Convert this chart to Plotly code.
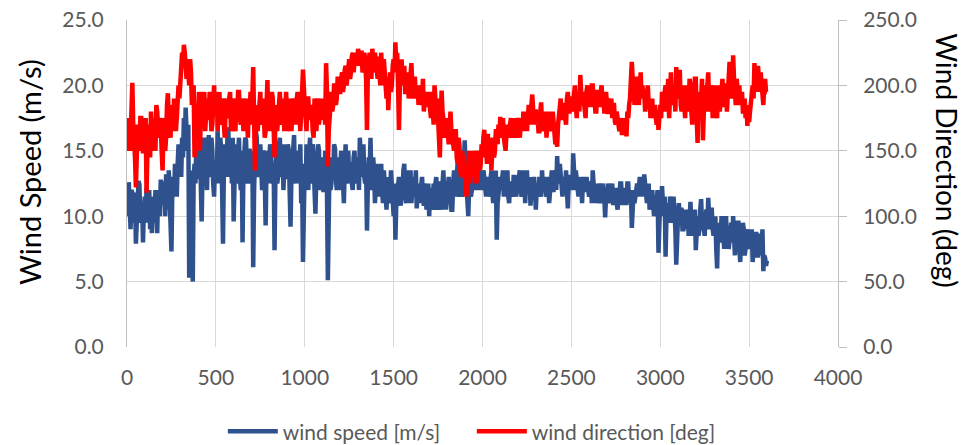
import plotly.graph_objects as go

# wind speed [m/s] read at x = 0, 10, 20, ... 3600
wind_speed = [
    11.5, 12.6, 9.0, 11.8, 10.5, 7.9, 11.2, 12.4, 10.0, 8.0,
    11.5, 12.2, 10.8, 9.0, 8.7, 11.0, 12.0, 8.7, 11.5, 12.8,
    11.0, 12.5, 13.2, 10.5, 12.0, 7.3, 13.0, 14.0, 11.5, 15.5,
    14.5, 16.0, 17.5, 18.3, 15.0, 5.3, 13.5, 5.0, 14.0, 15.5,
    13.0, 16.0, 9.6, 14.5, 15.5, 12.0, 16.2, 13.5, 15.0, 11.5,
    14.0, 16.5, 12.5, 15.0, 7.9, 15.5, 13.0, 16.8, 14.0, 12.5,
    9.6, 15.5, 13.5, 16.0, 12.0, 8.0, 14.5, 15.8, 13.0, 15.0,
    12.5, 6.1, 14.0, 16.0, 13.5, 15.5, 12.0, 14.8, 9.3, 15.0,
    13.5, 14.5, 12.5, 7.4, 15.0, 13.0, 16.0, 14.0, 12.0, 15.5,
    13.0, 15.0, 9.2, 14.0, 16.2, 12.5, 15.0, 13.5, 11.0, 6.5,
    14.0, 15.5, 12.0, 16.0, 13.0, 14.5, 10.2, 13.5, 15.0, 12.5,
    14.0, 12.0, 13.5, 5.1, 14.5, 12.5, 13.0, 15.2, 12.0, 14.0,
    13.0, 14.5, 11.0, 15.5, 13.0, 12.5, 14.0, 12.0, 15.0, 13.0,
    14.0, 16.0, 13.0, 15.5, 12.5, 8.9, 14.5, 16.0, 12.0, 13.5,
    12.5, 11.5, 13.0, 14.0, 11.0, 12.5, 10.5, 13.0, 11.5, 12.0,
    10.0, 8.2, 11.5, 13.0, 10.8, 12.0, 14.0, 11.0, 13.5, 12.0,
    11.0, 13.0, 12.0, 10.6, 12.5, 11.5, 13.0, 10.8, 12.0, 11.0,
    10.0, 12.0, 10.5, 11.5, 13.0, 11.0, 12.5, 10.5, 13.5, 12.0,
    11.5, 13.0, 12.0, 10.5, 13.5, 12.5, 14.0, 11.5, 13.0, 12.0,
    15.8, 12.5, 10.0, 13.0, 12.0, 13.0, 12.5, 12.0, 13.0, 12.5,
    12.0, 13.0, 11.5, 12.5, 12.0, 13.5, 11.0, 12.5, 8.2, 12.0,
    13.0, 12.5, 11.5, 12.0, 13.5, 11.0, 12.5, 11.5, 13.0, 11.5,
    12.0, 13.5, 11.5, 12.5, 11.0, 13.5, 12.0, 10.8, 12.5, 13.0,
    10.5, 12.5, 13.0, 11.5, 12.0, 13.0, 11.5, 12.5, 12.0, 13.5,
    12.0, 13.5, 14.6, 12.5, 13.0, 11.5, 12.5, 13.5, 10.6, 12.0,
    13.0, 14.8, 12.0, 13.0, 11.5, 12.5, 11.0, 13.0, 12.0, 12.5,
    11.5, 12.5, 13.5, 11.0, 12.0, 11.5, 12.5, 11.0, 12.0, 9.9,
    11.0, 12.0, 11.5, 12.5, 11.0, 12.0, 10.5, 11.5, 12.5, 11.0,
    12.0, 11.0, 12.5, 11.5, 9.1, 12.0, 11.5, 12.5, 12.0, 12.5,
    13.0, 13.2, 12.0, 11.5, 10.5, 11.5, 11.0, 10.5, 11.0, 7.2,
    11.5, 12.3, 10.5, 6.9, 11.0, 10.0, 11.0, 9.5, 10.5, 6.3,
    10.0, 9.5, 10.5, 9.0, 10.0, 9.5, 8.5, 11.1, 10.0, 9.5,
    7.4, 10.0, 9.0, 11.3, 10.0, 8.5, 10.5, 11.4, 9.0, 10.5,
    8.5, 10.0, 6.0, 9.5, 8.5, 9.0, 7.5, 10.0, 9.0, 8.5,
    9.5, 10.0, 7.0, 8.5, 9.5, 6.5, 8.0, 9.0, 7.5, 8.5,
    9.0, 8.0, 6.5, 8.5, 8.8, 7.0, 8.5, 8.0, 5.8, 6.8,
    6.6,
]

# wind speed [m/s] read at x = 5, 15, 25, ... 3595
wind_speed_mid = [
    10.0, 11.0, 12.0, 9.5, 11.8, 10.5, 12.7, 9.5, 11.0, 10.5,
    9.5, 11.0, 12.0, 10.5, 11.5, 9.5, 10.5, 12.0, 10.0, 11.0,
    12.5, 10.0, 11.5, 13.5, 9.5, 12.0, 11.5, 12.5, 14.0, 13.0,
    13.0, 14.5, 15.5, 16.5, 17.0, 12.0, 9.0, 13.0, 12.5, 13.0,
    15.0, 12.5, 13.5, 16.0, 13.0, 15.0, 13.0, 16.0, 12.5, 14.0,
    12.5, 14.0, 16.0, 12.0, 13.5, 14.0, 16.0, 13.0, 15.5, 16.0,
    13.0, 12.5, 15.5, 13.0, 15.0, 13.5, 16.0, 12.5, 15.0, 13.0,
    15.0, 12.0, 16.5, 13.0, 14.5, 13.0, 15.0, 13.0, 14.0, 12.5,
    15.5, 12.5, 14.0, 13.0, 12.5, 15.5, 13.0, 15.5, 14.5, 13.0,
    15.5, 12.0, 13.0, 15.5, 13.0, 14.5, 12.5, 15.5, 13.0, 12.0,
    12.0, 13.0, 15.0, 12.5, 15.5, 12.0, 13.0, 15.5, 12.0, 14.5,
    12.0, 15.0, 12.0, 10.0, 12.0, 14.5, 15.5, 13.0, 14.5, 12.0,
    15.0, 12.0, 13.5, 12.5, 15.0, 14.0, 12.5, 14.5, 12.5, 14.5,
    12.0, 14.5, 15.0, 13.0, 14.0, 12.5, 13.5, 12.5, 14.5, 11.0,
    14.0, 13.0, 11.5, 12.0, 13.5, 11.0, 12.5, 11.0, 13.5, 10.5,
    12.5, 11.0, 12.5, 11.5, 12.5, 13.5, 11.5, 12.5, 11.0, 13.5,
    12.5, 11.5, 13.5, 12.0, 11.0, 12.5, 11.5, 12.5, 10.5, 12.5,
    12.0, 11.0, 12.5, 12.5, 10.5, 12.5, 11.0, 12.5, 11.5, 10.5,
    13.0, 11.5, 10.5, 12.5, 11.5, 13.5, 12.0, 13.5, 11.5, 14.0,
    13.5, 11.5, 12.5, 11.5, 13.5, 12.0, 13.0, 13.5, 12.0, 13.5,
    13.5, 12.0, 13.0, 11.5, 13.0, 12.0, 12.5, 13.5, 11.0, 13.0,
    12.0, 13.5, 12.5, 13.0, 11.5, 12.5, 12.0, 13.0, 12.0, 12.5,
    13.0, 12.0, 12.5, 13.5, 12.5, 12.0, 13.0, 12.0, 11.5, 12.0,
    12.0, 11.5, 12.0, 13.5, 12.5, 12.0, 13.0, 11.0, 13.5, 12.0,
    13.0, 12.0, 13.0, 14.0, 12.0, 13.0, 12.0, 12.0, 12.5, 13.0,
    12.0, 13.5, 13.5, 12.0, 12.5, 13.0, 12.5, 12.0, 13.0, 11.5,
    12.5, 11.0, 12.5, 12.5, 11.0, 12.5, 11.5, 12.5, 11.5, 11.5,
    12.5, 11.0, 12.5, 11.0, 12.0, 11.0, 12.0, 12.5, 11.0, 12.0,
    11.0, 12.5, 11.0, 12.0, 11.5, 11.0, 12.5, 11.5, 13.0, 11.5,
    12.0, 12.0, 11.0, 12.5, 11.0, 12.0, 10.0, 11.5, 12.0, 10.5,
    10.0, 11.0, 11.5, 10.0, 9.5, 11.5, 10.0, 11.5, 9.0, 10.0,
    11.0, 10.5, 9.0, 10.5, 9.0, 10.5, 10.0, 9.5, 8.5, 10.5,
    9.5, 8.5, 10.5, 9.5, 9.0, 10.0, 9.0, 10.0, 10.5, 9.0,
    9.5, 7.5, 9.0, 8.0, 10.0, 8.0, 9.5, 8.5, 7.5, 9.5,
    8.0, 8.5, 9.0, 9.5, 7.5, 8.5, 9.5, 7.0, 9.0, 8.0,
    7.5, 9.0, 8.0, 7.5, 7.0, 8.5, 7.0, 9.0, 7.0, 6.2,
]

# wind direction [deg] read at x = 0, 10, 20, ... 3600
wind_direction = [
    165, 175, 150, 202, 160, 122, 170, 155, 175, 148,
    160, 118, 170, 145, 165, 175, 150, 180, 160, 170,
    135, 175, 160, 194, 170, 185, 165, 180, 175, 200,
    210, 225, 231, 215, 220, 200, 210, 190, 145, 185,
    175, 150, 195, 180, 165, 190, 175, 185, 170, 200,
    180, 165, 195, 175, 185, 160, 190, 178, 195, 170,
    185, 165, 180, 195, 170, 185, 175, 190, 160, 180,
    170, 214, 135, 185, 175, 195, 170, 180, 165, 204,
    180, 175, 190, 145, 185, 175, 195, 170, 185, 178,
    180, 170, 190, 175, 185, 170, 195, 180, 175, 212,
    185, 165, 190, 175, 180, 160, 185, 175, 170, 190,
    175, 185, 217, 138, 175, 195, 185, 200, 190, 205,
    195, 210, 200, 215, 205, 220, 210, 225, 215, 220,
    228, 215, 225, 212, 220, 166, 222, 215, 228, 210,
    220, 205, 215, 225, 200, 212, 190, 181, 210, 200,
    220, 233, 225, 166, 210, 200, 215, 195, 205, 200,
    217, 190, 205, 195, 185, 200, 190, 180, 195, 185,
    190, 175, 185, 200, 180, 170, 145, 196, 175, 165,
    170, 155, 180, 160, 150, 165, 140, 155, 130, 145,
    135, 115, 140, 125, 150, 135, 145, 130, 150, 140,
    145, 166, 155, 163, 150, 135, 160, 150, 165, 170,
    176, 165, 160, 150, 170, 165, 175, 160, 170, 165,
    172, 160, 175, 180, 170, 165, 185, 175, 193, 170,
    180, 175, 165, 187, 175, 170, 160, 180, 175, 165,
    170, 155, 153, 180, 190, 175, 185, 170, 195, 180,
    190, 185, 200, 175, 195, 208, 185, 190, 175, 200,
    195, 185, 200, 190, 180, 195, 185, 200, 190, 180,
    185, 190, 180, 175, 185, 170, 175, 165, 170, 168,
    165, 161, 175, 190, 218, 200, 190, 205, 185, 210,
    200, 195, 185, 200, 190, 180, 175, 185, 170, 166,
    185, 195, 180, 200, 190, 175, 210, 185, 195, 214,
    190, 212, 180, 200, 175, 195, 185, 200, 170, 190,
    205, 156, 195, 185, 158, 200, 190, 210, 180, 195,
    185, 200, 175, 195, 190, 205, 185, 200, 190, 218,
    200, 223, 195, 205, 190, 185, 195, 180, 175, 169,
    172, 185, 200, 217, 210, 215, 195, 200, 185, 205,
    195,
]

# wind direction [deg] read at x = 5, 15, 25, ... 3595
wind_direction_mid = [
    150, 160, 180, 170, 145, 160, 150, 175, 160, 165,
    175, 150, 155, 180, 150, 160, 185, 165, 175, 150,
    165, 150, 185, 175, 160, 170, 190, 165, 185, 190,
    220, 215, 225, 205, 210, 220, 185, 200, 175, 165,
    195, 185, 170, 195, 185, 175, 195, 165, 190, 180,
    195, 185, 170, 190, 170, 185, 175, 190, 165, 190,
    170, 190, 195, 175, 190, 165, 190, 175, 185, 195,
    190, 175, 175, 165, 195, 175, 190, 160, 185, 170,
    165, 195, 160, 175, 165, 190, 175, 190, 165, 195,
    165, 190, 165, 190, 170, 190, 175, 165, 195, 185,
    175, 190, 175, 185, 165, 190, 165, 190, 185, 175,
    190, 170, 195, 165, 190, 180, 200, 185, 205, 195,
    205, 195, 212, 200, 215, 205, 222, 210, 225, 215,
    215, 225, 210, 225, 205, 210, 225, 205, 218, 225,
    210, 222, 200, 210, 220, 195, 205, 200, 195, 215,
    210, 215, 200, 200, 220, 210, 195, 210, 190, 210,
    200, 205, 190, 200, 195, 185, 205, 190, 185, 195,
    180, 195, 170, 185, 190, 160, 175, 180, 160, 175,
    160, 170, 165, 150, 165, 145, 160, 135, 150, 135,
    125, 130, 150, 140, 130, 150, 125, 145, 135, 155,
    160, 150, 140, 150, 160, 150, 145, 165, 155, 160,
    160, 175, 150, 165, 160, 175, 165, 175, 160, 175,
    165, 170, 165, 170, 180, 175, 170, 185, 175, 180,
    170, 165, 180, 170, 165, 180, 175, 165, 170, 180,
    160, 165, 170, 190, 175, 185, 175, 190, 180, 190,
    180, 195, 185, 190, 180, 195, 195, 180, 195, 185,
    185, 200, 190, 180, 195, 185, 195, 185, 180, 195,
    178, 182, 190, 185, 172, 180, 168, 175, 162, 175,
    172, 180, 185, 205, 205, 185, 205, 190, 200, 190,
    190, 180, 195, 185, 175, 190, 185, 175, 180, 175,
    175, 185, 195, 180, 205, 195, 190, 200, 180, 195,
    200, 185, 195, 185, 200, 180, 205, 180, 195, 205,
    175, 190, 175, 205, 190, 180, 205, 185, 200, 175,
    200, 180, 200, 180, 205, 185, 200, 180, 205, 195,
    190, 205, 185, 195, 200, 190, 180, 190, 185, 180,
    180, 195, 190, 205, 195, 205, 210, 190, 200, 195,
]

speed_ticks = [0, 5, 10, 15, 20, 25]
direction_ticks = [0, 50, 100, 150, 200, 250]
x_ticks = [0, 500, 1000, 1500, 2000, 2500, 3000, 3500, 4000]

# interleave full-step and half-step readings
x_values, speed_series, direction_series = [], [], []
for i in range(len(wind_speed_mid)):
    x_values += [i * 10, i * 10 + 5]
    speed_series += [wind_speed[i], wind_speed_mid[i]]
    direction_series += [wind_direction[i], wind_direction_mid[i]]
x_values.append(len(wind_speed_mid) * 10)
speed_series.append(wind_speed[-1])
direction_series.append(wind_direction[-1])

FONT = "Lato"
TICK_COLOR = "#595959"
GRID = "#D9D9D9"
AXIS = "#BFBFBF"

fig = go.Figure()
fig.add_trace(go.Scatter(
    x=x_values, y=speed_series, mode="lines", name="wind speed [m/s]",
    line=dict(color="#2F528F", width=4.5), yaxis="y",
))
fig.add_trace(go.Scatter(
    x=x_values, y=direction_series, mode="lines", name="wind direction [deg]",
    line=dict(color="#FF0000", width=4.5), yaxis="y2",
))

fig.update_layout(
    width=964, height=445,
    margin=dict(l=127, r=126, t=20, b=98, autoexpand=False),
    paper_bgcolor="white", plot_bgcolor="white",
    font=dict(family=FONT, color=TICK_COLOR, size=21),
    showlegend=True,
    legend=dict(
        orientation="h", x=0.485, xanchor="center",
        yref="container", y=0.03, yanchor="middle",
        font=dict(family=FONT, size=21, color=TICK_COLOR),
        itemwidth=50, entrywidth=184, bgcolor="rgba(0,0,0,0)",
    ),
    xaxis=dict(
        range=[0, 4000], tickvals=x_ticks, showgrid=True, gridcolor=GRID,
        gridwidth=1, zeroline=False, showline=False, ticks="",
        tickfont=dict(family=FONT, size=21, color=TICK_COLOR),
        ticklabelstandoff=16,
    ),
    yaxis=dict(
        range=[0, 25], tickvals=speed_ticks, tickformat=".1f", showgrid=True,
        gridcolor=GRID, gridwidth=1, zeroline=False, showline=True,
        linecolor=AXIS, linewidth=1, ticks="",
        tickfont=dict(family=FONT, size=21, color=TICK_COLOR),
        ticklabelstandoff=18,
    ),
    yaxis2=dict(
        range=[0, 250], tickvals=direction_ticks, tickformat=".1f",
        overlaying="y", side="right", showgrid=False, zeroline=False,
        showline=True, linecolor=AXIS, linewidth=1, ticks="outside",
        ticklen=8, tickcolor=AXIS,
        tickfont=dict(family=FONT, size=21, color=TICK_COLOR),
        ticklabelstandoff=12,
    ),
    annotations=[
        dict(text="Wind Speed (m/s)", xref="paper", yref="paper",
             x=-0.1378, y=0.535, xanchor="center", yanchor="middle",
             textangle=-90, showarrow=False,
             font=dict(family=FONT, size=29, color="black")),
        dict(text="Wind Direction (deg)", xref="paper", yref="paper",
             x=1.153, y=0.569, xanchor="center", yanchor="middle",
             textangle=90, showarrow=False,
             font=dict(family=FONT, size=28, color="black")),
    ],
    hovermode=False,
)

fig.write_html("out.html")
